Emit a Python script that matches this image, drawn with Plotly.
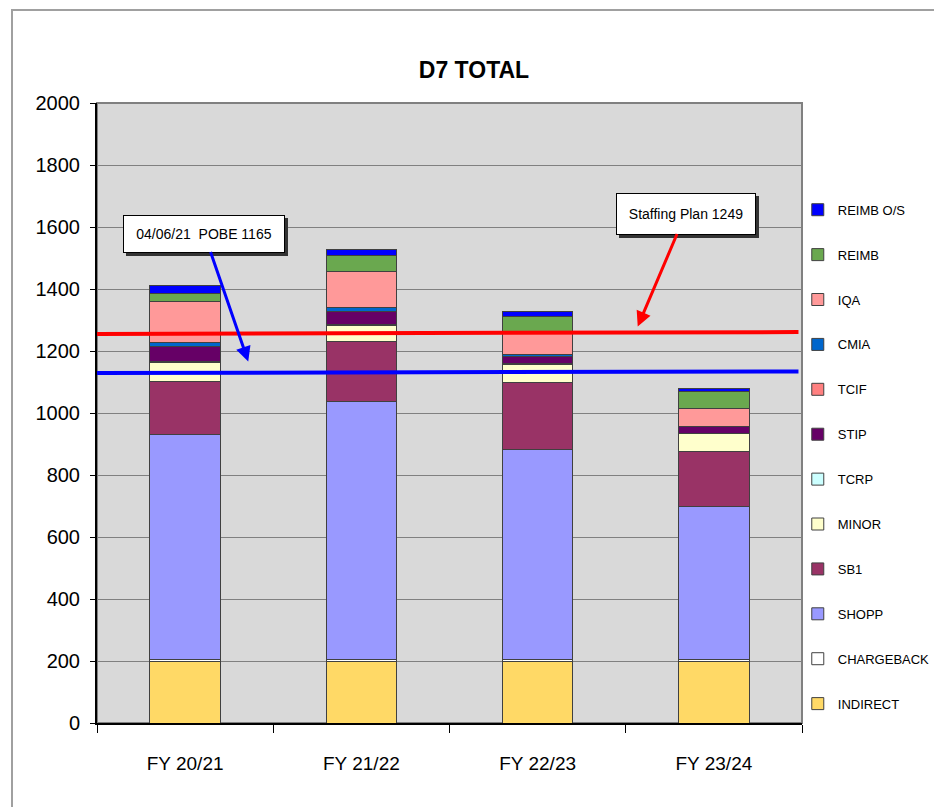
import plotly.graph_objects as go

categories = ["FY 20/21", "FY 21/22", "FY 22/23", "FY 23/24"]

# stacked from bottom to top
series_names = ["INDIRECT", "CHARGEBACK", "SHOPP", "SB1", "MINOR", "TCRP",
                "STIP", "TCIF", "CMIA", "IQA", "REIMB", "REIMB O/S"]
indirect   = [200, 200, 200, 200]
chargeback = [6, 6, 6, 6]
shopp      = [724, 832, 676, 493]
sb1        = [173, 194, 218, 178]
minor      = [60, 51, 57, 57]
tcrp       = [2, 3, 2, 0]
stip       = [50, 40, 23, 21]
tcif       = [0, 0, 0, 0]
cmia       = [14, 14, 7, 0]
iqa        = [131, 118, 75, 59]
reimb      = [27, 49, 47, 56]
reimb_os   = [25, 21, 15, 8]
series_values = [indirect, chargeback, shopp, sb1, minor, tcrp,
                 stip, tcif, cmia, iqa, reimb, reimb_os]
series_colors = ["#FFD966", "#FFFFFF", "#9999FF", "#993366", "#FFFFCC", "#CCFFFF",
                 "#660066", "#FF8080", "#0066CC", "#FF9999", "#6AA84F", "#0000FF"]

# reference lines (start, end values across the plot)
staffing_plan = [1255, 1261]
pobe = [1129, 1134]
y_ticks = list(range(0, 2001, 200))

FONT = "Liberation Sans, Arial, sans-serif"

fig = go.Figure()
n = len(series_names)
for i, (name, vals, col) in enumerate(zip(series_names, series_values, series_colors)):
    fig.add_trace(go.Bar(
        x=categories, y=vals, name=name, legendgroup=name, legendrank=100 + (n - i),
        marker=dict(color=col, line=dict(color="#404040", width=1)),
    ))

# horizontal reference lines
fig.add_shape(type="line", xref="paper", yref="y", x0=0, x1=0.995,
              y0=staffing_plan[0], y1=staffing_plan[1],
              line=dict(color="#FF0000", width=4), layer="above")
fig.add_shape(type="line", xref="paper", yref="y", x0=0, x1=0.995,
              y0=pobe[0], y1=pobe[1],
              line=dict(color="#0000FF", width=4), layer="above")

# plot area border (top/right grey)
fig.add_shape(type="rect", xref="paper", yref="paper", x0=0, x1=1, y0=0, y1=1,
              line=dict(color="#808080", width=2), layer="below")
# outer chart frame
fig.add_shape(type="rect", xref="paper", yref="paper",
              x0=(12 - 97) / 705, x1=(960 - 97) / 705,
              y0=(723 - 830) / 620, y1=(723 - 10) / 620,
              line=dict(color="#A0A0A0", width=2), layer="below")

def callout(text, x, y, ax, ay, color, w, h):
    # shadow
    fig.add_annotation(x=x, y=y, ax=ax, ay=ay, text="&nbsp;", showarrow=True,
                       arrowcolor="rgba(0,0,0,0)", xshift=3, yshift=-3,
                       bgcolor="#333333", bordercolor="#333333", borderwidth=1,
                       width=w, height=h, borderpad=2,
                       font=dict(family=FONT, size=14, color="#333333"))
    fig.add_annotation(x=x, y=y, ax=ax, ay=ay, text=text, showarrow=True,
                       arrowcolor=color, arrowwidth=3, arrowhead=2, arrowsize=1,
                       bgcolor="#FFFFFF", bordercolor="#000000", borderwidth=1,
                       width=w, height=h, borderpad=2,
                       font=dict(family=FONT, size=14, color="#000000"))

callout("04/06/21&nbsp;&nbsp;POBE 1165", 0.358, 1166, -44, -128, "#0000FF", 156, 32)
callout("Staffing Plan 1249", 2.568, 1279, 48, -113, "#FF0000", 134, 36)

fig.update_layout(
    width=934, height=807,
    margin=dict(l=97, r=132, t=103, b=84, autoexpand=False),
    paper_bgcolor="#FFFFFF", plot_bgcolor="#D9D9D9",
    barmode="stack", bargap=0.6,
    font=dict(family=FONT, color="#000000"),
    title=dict(text="<b>D7 TOTAL</b>", x=(474 - 97) / 705, xref="paper", xanchor="center",
               y=1 - 70 / 807, yref="container", yanchor="middle",
               font=dict(family=FONT, size=23, color="#000000")),
    showlegend=True,
    legend=dict(x=0.994, xanchor="left", y=0.852, yanchor="top",
                traceorder="grouped", tracegroupgap=25,
                font=dict(family=FONT, size=13, color="#000000"),
                bgcolor="rgba(0,0,0,0)"),
    xaxis=dict(showline=True, linecolor="#000000", linewidth=2,
               ticks="outside", ticklen=8, tickcolor="#000000", tickson="boundaries",
               ticklabelstandoff=22,
               tickfont=dict(family=FONT, size=19), showgrid=False),
    yaxis=dict(range=[0, 2000], tickvals=y_ticks, showline=True, linecolor="#000000",
               linewidth=2, ticks="outside", ticklen=5, tickcolor="#000000",
               ticklabelstandoff=6,
               showgrid=True, gridcolor="#808080", gridwidth=1,
               tickfont=dict(family=FONT, size=20), zeroline=False),
)

fig.write_html("out.html", config={"displayModeBar": False},
               post_script="document.body.style.margin='0px';document.body.style.overflow='hidden';")
